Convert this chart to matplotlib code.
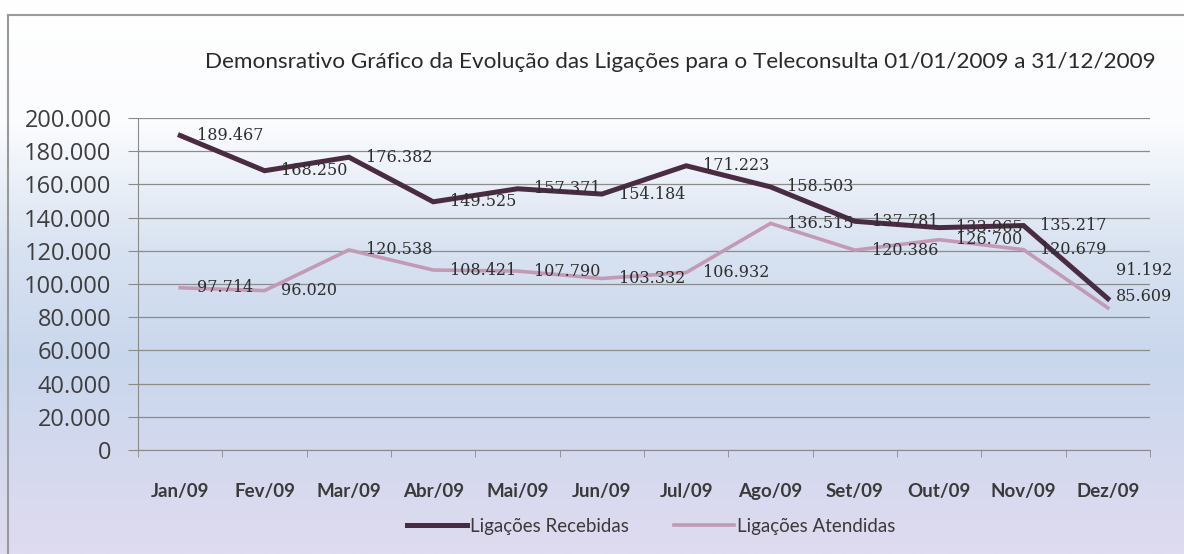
import matplotlib
matplotlib.use('Agg')
import matplotlib.pyplot as plt
import numpy as np
from matplotlib.colors import LinearSegmentedColormap
from matplotlib.ticker import FuncFormatter

meses = ['Jan/09', 'Fev/09', 'Mar/09', 'Abr/09', 'Mai/09', 'Jun/09',
         'Jul/09', 'Ago/09', 'Set/09', 'Out/09', 'Nov/09', 'Dez/09']
recebidas = [189467, 168250, 176382, 149525, 157371, 154184,
             171223, 158503, 137781, 133965, 135217, 91192]
atendidas = [97714, 96020, 120538, 108421, 107790, 103332,
             106932, 136515, 120386, 126700, 120679, 85609]
titulo = 'Demonsrativo Gráfico da Evolução das Ligações para o Teleconsulta 01/01/2009 a 31/12/2009'

sans = ['Lato', 'DejaVu Sans']
cor_rec = '#4a2c42'
cor_ate = '#c39ab6'

def fmt(v):
    return f'{v:,.0f}'.replace(',', '.')

fig = plt.figure(figsize=(11.84, 5.54), dpi=100)

# fundo em degrade (branco em cima, azul claro no meio, lilas em baixo)
bg = fig.add_axes([0, 0, 1, 1], zorder=0)
cmap = LinearSegmentedColormap.from_list('fundo', [
    (0.0, '#ffffff'), (0.22, '#fbfcfe'), (0.45, '#d8e2f1'),
    (0.65, '#c9d7ed'), (1.0, '#dfdbf0')])
grad = np.linspace(0, 1, 256).reshape(-1, 1)
bg.imshow(grad, aspect='auto', cmap=cmap, extent=[0, 1, 0, 1], origin='upper')
bg.plot([0.007, 0.007], [0, 0.973], color='#9a9a9a', lw=1.5)
bg.plot([0.007, 1], [0.973, 0.973], color='#9a9a9a', lw=1.5)
bg.set_xlim(0, 1)
bg.set_ylim(0, 1)
bg.axis('off')

ax = fig.add_axes([0.1166, 0.1877, 0.8547, 0.5993], zorder=1)
ax.patch.set_alpha(0)
x = np.arange(len(meses))
l1, = ax.plot(x, recebidas, color=cor_rec, lw=3.6, solid_joinstyle='miter', zorder=3)
l2, = ax.plot(x, atendidas, color=cor_ate, lw=2.6, solid_joinstyle='miter', zorder=2)

# rotulos a direita dos pontos; dezembro fica deslocado como no original
desloc = {(0, 11): (6, 20), (1, 11): (6, 8)}
for k, serie in enumerate((recebidas, atendidas)):
    for xi, v in zip(x, serie):
        ax.annotate(fmt(v), (xi, v), xytext=desloc.get((k, xi), (12, 0)),
                    textcoords='offset points', ha='left', va='center',
                    fontsize=11.5, family='DejaVu Serif', color='#2e2e2e', zorder=4)

ax.set_xlim(-0.5, len(meses) - 0.5)
ax.set_ylim(0, 200000)
ax.set_yticks(np.arange(0, 200001, 20000))
ax.yaxis.set_major_formatter(FuncFormatter(lambda v, p: fmt(v)))
ax.set_xticks(x)
ax.set_xticklabels(meses, family=sans, fontsize=13.5, fontweight='bold', color='#3a3a3a')
ax.set_xticks(np.arange(-0.5, len(meses)), minor=True)
ax.tick_params(axis='x', which='major', length=0, pad=24)
ax.tick_params(axis='x', which='minor', length=5, color='#8a8a8a', direction='out')
ax.tick_params(axis='y', length=7, color='#8a8a8a', labelsize=17, labelcolor='#3e3e3e', pad=12)
for lab in ax.get_yticklabels():
    lab.set_family(['Open Sans', 'DejaVu Sans'])

ax.grid(axis='y', color='#8c8c8c', lw=0.9)
ax.set_axisbelow(True)
for s in ('top', 'right'):
    ax.spines[s].set_visible(False)
ax.spines['left'].set_color('#8a8a8a')
ax.spines['bottom'].set_color('#8a8a8a')

fig.text(0.575, 0.888, titulo, ha='center', va='center', family=sans,
         fontsize=16.2, color='#2a2a2a')

leg = fig.legend([l1, l2], ['Ligações Recebidas', 'Ligações Atendidas'], loc='center',
                 bbox_to_anchor=(0.55, 0.05), ncol=2, frameon=False, handlelength=3.2,
                 handletextpad=0.15, columnspacing=2.4, fontsize=13.5)
for t in leg.get_texts():
    t.set_family(sans)
    t.set_color('#3a3a3a')

fig.savefig('out.png', dpi=100)
